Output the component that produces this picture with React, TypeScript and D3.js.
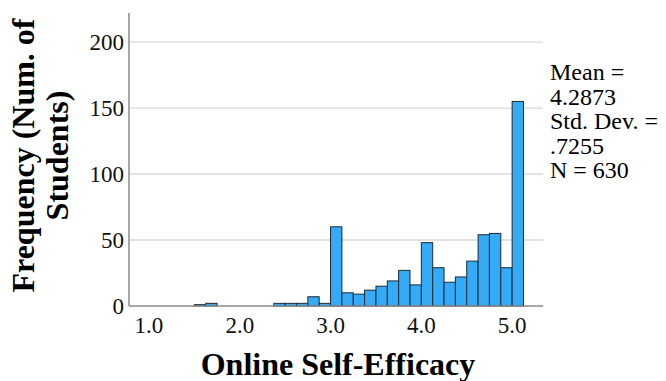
import { useEffect, useRef } from "react";
import * as d3 from "d3";

// left edge of each bin (bin width 0.125) and the count in it
const binStarts = [
  1.5, 1.625, 1.75, 1.875, 2.0, 2.125, 2.25, 2.375, 2.5, 2.625, 2.75, 2.875,
  3.0, 3.125, 3.25, 3.375, 3.5, 3.625, 3.75, 3.875, 4.0, 4.125, 4.25, 4.375,
  4.5, 4.625, 4.75, 4.875, 5.0,
];
const counts = [
  1, 2, 0, 0, 0, 0, 0, 2, 2, 2, 7, 2, 60, 10, 9, 12, 15, 19, 27, 16, 48, 29,
  18, 22, 34, 54, 55, 29, 155,
];
const binWidth = 0.125;
const xTicks = [1, 2, 3, 4, 5];
const yTicks = [0, 50, 100, 150, 200];
const statsLines = ["Mean =", "4.2873", "Std. Dev. =", ".7255", "N = 630"];

const W = 666;
const H = 381;
const FONT = "'Liberation Serif', 'Times New Roman', serif";

export default function App() {
  const svgRef = useRef<SVGSVGElement>(null);

  useEffect(() => {
    if (!svgRef.current) return;
    const svg = d3.select(svgRef.current);
    svg.selectAll("*").remove();

    const left = 129;
    const right = 543;
    const top = 13;
    const bottom = 306;

    const x = d3.scaleLinear().domain([0.78, 5.34]).range([left, right]);
    const y = d3.scaleLinear().domain([0, 222]).range([bottom, top]);

    // gridlines
    svg
      .append("g")
      .selectAll("line")
      .data(yTicks.filter((t) => t > 0))
      .join("line")
      .attr("x1", left)
      .attr("x2", right)
      .attr("y1", (d) => y(d))
      .attr("y2", (d) => y(d))
      .attr("stroke", "#d9d9d9")
      .attr("stroke-width", 1.3);

    // bars
    const bins = binStarts
      .map((b, i) => ({ start: b, count: counts[i] }))
      .filter((d) => d.count > 0);
    svg
      .append("g")
      .selectAll("rect")
      .data(bins)
      .join("rect")
      .attr("x", (d) => x(d.start))
      .attr("width", (d) => x(d.start + binWidth) - x(d.start))
      .attr("y", (d) => y(d.count))
      .attr("height", (d) => y(0) - y(d.count))
      .attr("fill", "#33abf7")
      .attr("stroke", "#1c2a33")
      .attr("stroke-width", 1);

    // axis lines
    svg
      .append("line")
      .attr("x1", left)
      .attr("x2", left)
      .attr("y1", top)
      .attr("y2", bottom)
      .attr("stroke", "#8a8a8a")
      .attr("stroke-width", 1.5);
    svg
      .append("line")
      .attr("x1", left)
      .attr("x2", right)
      .attr("y1", bottom)
      .attr("y2", bottom)
      .attr("stroke", "#8a8a8a")
      .attr("stroke-width", 1.5);

    // y tick labels
    svg
      .append("g")
      .selectAll("text")
      .data(yTicks)
      .join("text")
      .attr("x", left - 5)
      .attr("y", (d) => y(d))
      .attr("dy", "0.35em")
      .attr("text-anchor", "end")
      .attr("font-family", FONT)
      .attr("font-size", 23)
      .attr("fill", "#111")
      .text((d) => d);

    // x tick labels
    svg
      .append("g")
      .selectAll("text")
      .data(xTicks)
      .join("text")
      .attr("x", (d) => x(d))
      .attr("y", 333)
      .attr("text-anchor", "middle")
      .attr("font-family", FONT)
      .attr("font-size", 23)
      .attr("fill", "#111")
      .text((d) => d3.format(".1f")(d));

    // axis titles
    svg
      .append("text")
      .attr("x", (left + right) / 2 + 2)
      .attr("y", 375)
      .attr("text-anchor", "middle")
      .attr("font-family", FONT)
      .attr("font-size", 32)
      .attr("font-weight", "bold")
      .attr("fill", "#000")
      .text("Online Self-Efficacy");

    const yTitle = svg
      .append("text")
      .attr("transform", `translate(0, ${(top + bottom) / 2 - 4}) rotate(-90)`)
      .attr("text-anchor", "middle")
      .attr("font-family", FONT)
      .attr("font-size", 32)
      .attr("font-weight", "bold")
      .attr("fill", "#000");
    yTitle.append("tspan").attr("x", 0).attr("y", 34).text("Frequency (Num. of");
    yTitle.append("tspan").attr("x", 0).attr("y", 68).text("Students)");

    // stats box
    svg
      .append("g")
      .selectAll("text")
      .data(statsLines)
      .join("text")
      .attr("x", 550)
      .attr("y", (_d, i) => 80 + i * 24.5)
      .attr("font-family", FONT)
      .attr("font-size", 24)
      .attr("fill", "#000")
      .text((d) => d);
  }, []);

  return (
    <svg
      ref={svgRef}
      width={W}
      height={H}
      style={{ position: "absolute", left: 0, top: 0, background: "#fff" }}
    />
  );
}
